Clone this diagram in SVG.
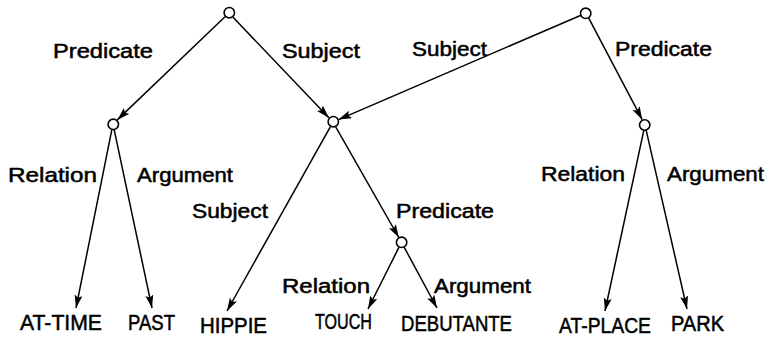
<svg xmlns="http://www.w3.org/2000/svg" width="768" height="340" viewBox="0 0 768 340">
<style>
.bg{fill:#fff}
.node{fill:#fff;stroke:#000;stroke-width:1.6}
.edge{fill:none;stroke:#000;stroke-width:1.5;marker-end:url(#arr)}
text{font-family:"Liberation Sans",Arial,sans-serif;fill:#000;stroke:#000;stroke-width:0.5}
.lbl{font-size:20px}
.leaf{font-size:21.5px}
</style>
<defs>
<marker id="arr" markerUnits="userSpaceOnUse" markerWidth="14" markerHeight="9" refX="13" refY="4" orient="auto">
<path d="M0,0 L13,4 L0,8 L2.5,4 Z" fill="#000"/>
</marker>
</defs>
<rect class="bg" x="0" y="0" width="768" height="340"/>
<g id="connectors">
<line class="edge" x1="225" y1="16.8" x2="117.3" y2="119.9"/>
<line class="edge" x1="232.8" y1="17" x2="328.9" y2="117.7"/>
<line class="edge" x1="581" y1="15.2" x2="338.5" y2="119.6"/>
<line class="edge" x1="588.6" y1="17.9" x2="642.2" y2="119.7"/>
<line class="edge" x1="111.9" y1="129.4" x2="76" y2="308"/>
<line class="edge" x1="114.1" y1="129.4" x2="152" y2="308"/>
<line class="edge" x1="330.3" y1="126.8" x2="227" y2="311"/>
<line class="edge" x1="335.7" y1="126.8" x2="398.8" y2="237.5"/>
<line class="edge" x1="399" y1="247.2" x2="368" y2="309"/>
<line class="edge" x1="404.1" y1="247.1" x2="437" y2="308"/>
<line class="edge" x1="643.8" y1="130.4" x2="605" y2="311"/>
<line class="edge" x1="646.2" y1="130.4" x2="687" y2="309"/>
</g>
<g id="root1"><circle class="node" cx="229.3" cy="12.7" r="5.2"/></g>
<g id="root2"><circle class="node" cx="585.7" cy="13.3" r="5.2"/></g>
<g id="n-left"><circle class="node" cx="113.3" cy="124.3" r="5.2"/></g>
<g id="n-shared"><circle class="node" cx="333.3" cy="121.7" r="5.2"/></g>
<g id="n-right"><circle class="node" cx="644.7" cy="125" r="5.2"/></g>
<g id="n-touch"><circle class="node" cx="401.6" cy="242.3" r="5.2"/></g>
<g id="labels">
<text class="lbl" x="53" y="58" textLength="100" lengthAdjust="spacingAndGlyphs">Predicate</text>
<text class="lbl" x="282" y="58" textLength="78" lengthAdjust="spacingAndGlyphs">Subject</text>
<text class="lbl" x="412" y="56" textLength="75" lengthAdjust="spacingAndGlyphs">Subject</text>
<text class="lbl" x="615" y="56" textLength="97" lengthAdjust="spacingAndGlyphs">Predicate</text>
<text class="lbl" x="8" y="182" textLength="89" lengthAdjust="spacingAndGlyphs">Relation</text>
<text class="lbl" x="137" y="182" textLength="96" lengthAdjust="spacingAndGlyphs">Argument</text>
<text class="lbl" x="541" y="181" textLength="84" lengthAdjust="spacingAndGlyphs">Relation</text>
<text class="lbl" x="667" y="181" textLength="97" lengthAdjust="spacingAndGlyphs">Argument</text>
<text class="lbl" x="192" y="218" textLength="76" lengthAdjust="spacingAndGlyphs">Subject</text>
<text class="lbl" x="396" y="218" textLength="98" lengthAdjust="spacingAndGlyphs">Predicate</text>
<text class="lbl" x="282" y="293" textLength="88" lengthAdjust="spacingAndGlyphs">Relation</text>
<text class="lbl" x="434" y="293" textLength="97" lengthAdjust="spacingAndGlyphs">Argument</text>
</g>
<g id="leaf-attime"><text class="leaf" x="20" y="330" textLength="82" lengthAdjust="spacingAndGlyphs">AT-TIME</text></g>
<g id="leaf-past"><text class="leaf" x="128" y="330" textLength="47" lengthAdjust="spacingAndGlyphs">PAST</text></g>
<g id="leaf-hippie"><text class="leaf" x="200" y="333" textLength="67" lengthAdjust="spacingAndGlyphs">HIPPIE</text></g>
<g id="leaf-touch"><text class="leaf" x="315" y="329" textLength="57" lengthAdjust="spacingAndGlyphs">TOUCH</text></g>
<g id="leaf-debutante"><text class="leaf" x="401" y="331" textLength="111" lengthAdjust="spacingAndGlyphs">DEBUTANTE</text></g>
<g id="leaf-atplace"><text class="leaf" x="559" y="333" textLength="92" lengthAdjust="spacingAndGlyphs">AT-PLACE</text></g>
<g id="leaf-park"><text class="leaf" x="671" y="331" textLength="53" lengthAdjust="spacingAndGlyphs">PARK</text></g>
</svg>
